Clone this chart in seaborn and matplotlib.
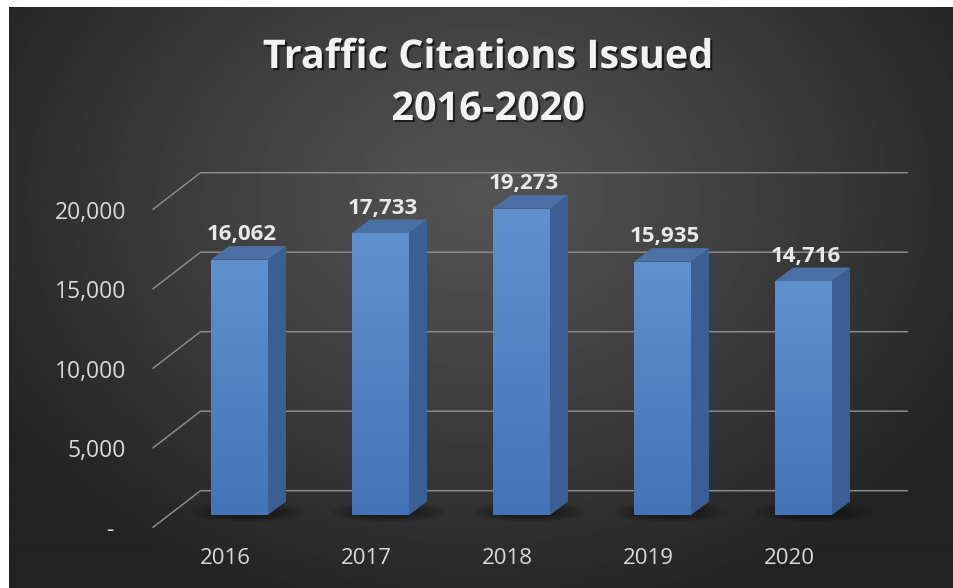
import numpy as np
import pandas as pd
import matplotlib
matplotlib.use("Agg")
import matplotlib.pyplot as plt
import matplotlib.transforms as mtrans
import matplotlib.patheffects as pe
from matplotlib.patches import Polygon, Ellipse
from matplotlib.colors import LinearSegmentedColormap
import seaborn as sns

# ---------------- data ----------------
years = ["2016", "2017", "2018", "2019", "2020"]
citations = [16062, 17733, 19273, 15935, 14716]
y_ticks = [0, 5000, 10000, 15000, 20000]
y_tick_labels = ["-  ", "5,000", "10,000", "15,000", "20,000"]
title_line1 = "Traffic Citations Issued"
title_line2 = "2016-2020"

# ---------------- style ----------------
sns.set_theme(style="white")
plt.rcParams["font.family"] = ["Open Sans", "DejaVu Sans"]

W, H, DPI = 954, 588, 100
fig = plt.figure(figsize=(W / DPI, H / DPI), dpi=DPI)
fig.patch.set_facecolor("white")

# background panel with radial gradient
bg = fig.add_axes([9 / W, 0, 944 / W, 581 / H], zorder=0)
bg.set_axis_off()
gx, gy = np.meshgrid(np.linspace(0, 944, 472), np.linspace(0, 581, 290))
r = np.sqrt(((gx - 470) / 560) ** 2 + ((gy - 190) / 430) ** 2)
val = 0.33 - (0.33 - 0.14) * np.clip(r, 0, 1) ** 1.1
bg.imshow(val, cmap="gray", vmin=0, vmax=1, aspect="auto", extent=(0, 1, 0, 1),
          origin="upper", interpolation="bilinear")
bg.set_xlim(0, 1)
bg.set_ylim(0, 1)

# ---------------- main axes ----------------
PX_X = 141.0     # pixels per category step
PX_Y = 0.0159    # pixels per citation
ax_left_px, ax_bottom_px, ax_top_px = 169, 515, 150
ax = fig.add_axes([ax_left_px / W, (H - ax_bottom_px) / H,
                   5 * PX_X / W, (ax_bottom_px - ax_top_px) / H], zorder=1)
ax.set_facecolor("none")

df = pd.DataFrame({"Year": years, "Citations": citations})
sns.barplot(data=df, x="Year", y="Citations", color="#4F81BD", saturation=1,
            width=57 / PX_X, ax=ax, zorder=3, linewidth=0)
bars = list(ax.containers[0])

ymax = (ax_bottom_px - ax_top_px) / PX_Y
ax.set_xlim(-0.5, 4.5)
ax.set_ylim(0, ymax)

# 3D offsets (pixels -> data units)
ddx, ddy = 18 / PX_X, 13.5 / PX_Y          # bar depth
bwx, bwy = 31.5 / PX_X, 24.3 / PX_Y        # back wall
ffx, ffy = -16.5 / PX_X, -12.7 / PX_Y      # floor front edge
x_back_right = (908 - ax_left_px) / PX_X - 0.5

# gridlines (back wall + side wall diagonals)
for v in y_ticks:
    ax.plot([-0.5 + ffx, -0.5 + bwx, x_back_right], [v + ffy, v + bwy, v + bwy],
            color="#8a8a8a", lw=1.1, clip_on=False, zorder=1, solid_capstyle="butt")

# floor shadows
for p in bars:
    cx = p.get_x() + p.get_width() / 2 + 8 / PX_X
    cy = 3 / PX_Y
    for k in range(6):
        s = 1 - k * 0.12
        ax.add_patch(Ellipse((cx, cy), 112 * s / PX_X, 20 * s / PX_Y, facecolor="black",
                             edgecolor="none", alpha=0.09, zorder=2, clip_on=False))

# bar faces
grad = np.linspace(0, 1, 256).reshape(-1, 1)
front_cmap = LinearSegmentedColormap.from_list("front", ["#4474B7", "#6190CF"])
for p in bars:
    x0, w, h = p.get_x(), p.get_width(), p.get_height()
    im = ax.imshow(grad, cmap=front_cmap, extent=(x0, x0 + w, 0, h), origin="lower",
                   aspect="auto", zorder=3.1, interpolation="bilinear")
    im.set_clip_path(p)
    ax.add_patch(Polygon([(x0 + w, 0), (x0 + w + ddx, ddy), (x0 + w + ddx, h + ddy), (x0 + w, h)],
                         closed=True, facecolor="#3A5F94", edgecolor="none", zorder=2.9, clip_on=False))
    ax.add_patch(Polygon([(x0, h), (x0 + ddx, h + ddy), (x0 + w + ddx, h + ddy), (x0 + w, h)],
                         closed=True, facecolor="#4A70A6", edgecolor="none", zorder=2.9, clip_on=False))

ax.set_xlim(-0.5, 4.5)
ax.set_ylim(0, ymax)

# value labels
vlabels = ax.bar_label(ax.containers[0], labels=[f"{v:,}" for v in citations], padding=0,
                       color="#e8e8e8", fontsize=16, fontweight="bold", zorder=5)
for t in vlabels:
    t.set_va("center")
    t.xyann = (2 * 0.72, 25 * 0.72)

# ticks
ax.set_xticks(range(len(years)), years)
ax.set_yticks(y_ticks, y_tick_labels)
ax.tick_params(axis="x", length=0, pad=0, labelcolor="#d9d9d9", labelsize=16)
ax.tick_params(axis="y", length=0, pad=0, labelcolor="#d9d9d9", labelsize=16.5)
for lbl in ax.get_xticklabels():
    lbl.set_va("center")
    lbl.set_transform(lbl.get_transform() +
                      mtrans.ScaledTranslation(-14 / DPI, -44 / DPI, fig.dpi_scale_trans))
for lbl in ax.get_yticklabels():
    lbl.set_transform(lbl.get_transform() +
                      mtrans.ScaledTranslation(-43 / DPI, -12.7 / DPI, fig.dpi_scale_trans))
ax.set_xlabel("")
ax.set_ylabel("")
sns.despine(ax=ax, left=True, bottom=True)
ax.grid(False)

# title
shadow = [pe.withSimplePatchShadow(offset=(1.5, -1.5), shadow_rgbFace="black", alpha=0.6)]
fig.text(488 / W, (H - 68) / H, title_line1, ha="center", va="baseline", fontsize=28.5,
         fontweight="bold", color="#f2f2f2", path_effects=shadow)
fig.text(488 / W, (H - 120) / H, title_line2, ha="center", va="baseline", fontsize=28.5,
         fontweight="bold", color="#f2f2f2", path_effects=shadow)

fig.savefig("out.png", dpi=DPI)
